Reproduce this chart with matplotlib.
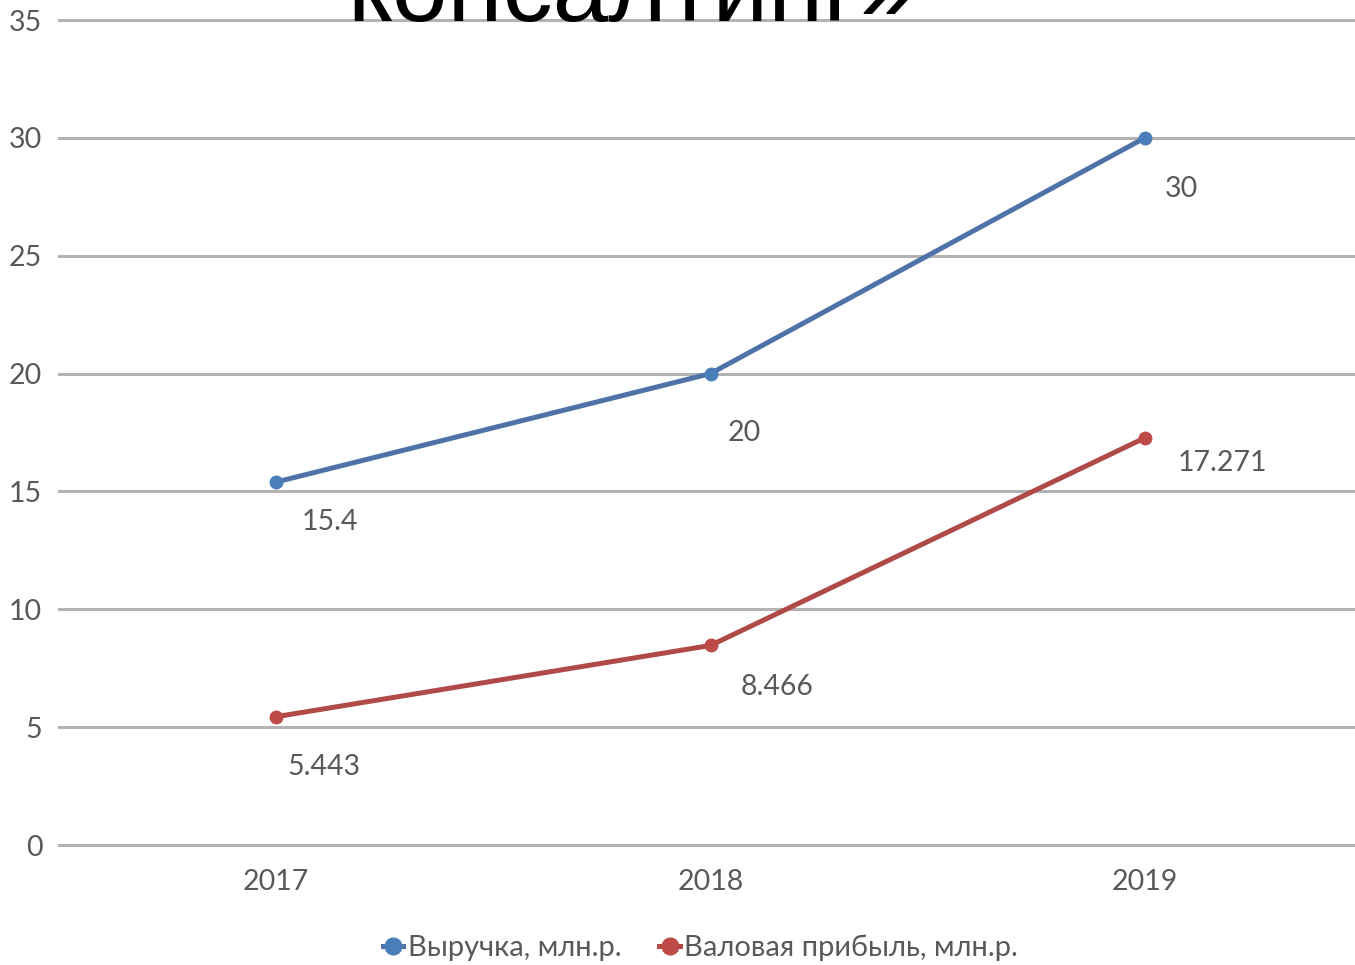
import matplotlib
matplotlib.use("Agg")
import matplotlib.pyplot as plt
from matplotlib.lines import Line2D

years = ["2017", "2018", "2019"]
revenue = [15.4, 20, 30]
gross_profit = [5.443, 8.466, 17.271]
revenue_labels = ["15.4", "20", "30"]
profit_labels = ["5.443", "8.466", "17.271"]
yticks = [0, 5, 10, 15, 20, 25, 30, 35]
series_names = ["Выручка, млн.р.", "Валовая прибыль, млн.р."]
title_tail = "консалтинг»"

plt.rcParams['font.family'] = ['Lato', 'DejaVu Sans']
TXT = "#595959"
FS = 20.5

fig = plt.figure(figsize=(13.55, 9.65), dpi=100)
ax = fig.add_axes([59/1355, 120/965, 1303/1355, 825/965])

x = list(range(len(years)))
blue_line, blue_mk = "#4f73a8", "#4a7ebb"
red_line, red_mk = "#b04a48", "#be4b48"

ax.plot(x, revenue, color=blue_line, lw=3.6, marker='o', ms=9,
        mfc=blue_mk, mec=blue_mk, zorder=3, solid_capstyle='round')
ax.plot(x, gross_profit, color=red_line, lw=3.6, marker='o', ms=9,
        mfc=red_mk, mec=red_mk, zorder=3, solid_capstyle='round')

rev_off = [(54, -40), (34, -59), (37, -51)]
prof_off = [(48, -50), (67, -42), (78, -25)]
for xi, v, lab, off in zip(x, revenue, revenue_labels, rev_off):
    ax.annotate(lab, (xi, v), xytext=(off[0]*0.72, off[1]*0.72),
                textcoords='offset points', ha='center', va='center',
                fontsize=FS, color=TXT)
for xi, v, lab, off in zip(x, gross_profit, profit_labels, prof_off):
    ax.annotate(lab, (xi, v), xytext=(off[0]*0.72, off[1]*0.72),
                textcoords='offset points', ha='center', va='center',
                fontsize=FS, color=TXT)

ax.set_xlim(-0.5, 2.5)
ax.set_ylim(0, 35)
ax.set_yticks(yticks)
ax.set_xticks(x)
ax.set_xticklabels(years)
ax.grid(axis='y', color='#b3b3b3', lw=2.2)
for gl in ax.get_ygridlines():
    gl.set_clip_on(False)
ax.set_axisbelow(True)
for s in ax.spines.values():
    s.set_visible(False)
ax.tick_params(axis='both', length=0, labelsize=FS, colors=TXT)
ax.tick_params(axis='y', pad=12)
ax.tick_params(axis='x', pad=17)

handles = [Line2D([0], [0], color=blue_line, lw=3.6, marker='o', ms=12,
                  mfc=blue_mk, mec=blue_mk),
           Line2D([0], [0], color=red_line, lw=3.6, marker='o', ms=12,
                  mfc=red_mk, mec=red_mk)]
fig.legend(handles, series_names, loc='center', bbox_to_anchor=(0.517, 1 - 948/965),
           ncol=2, frameon=False, fontsize=21, labelcolor=TXT,
           handlelength=0.7, handletextpad=0.15, columnspacing=1.3)

fig.text(0.466, 1 - 21/965, title_tail, ha='center', va='baseline',
         fontsize=72, color='black', family=['Liberation Sans', 'DejaVu Sans'], zorder=5)

fig.savefig("out.png", dpi=100)
